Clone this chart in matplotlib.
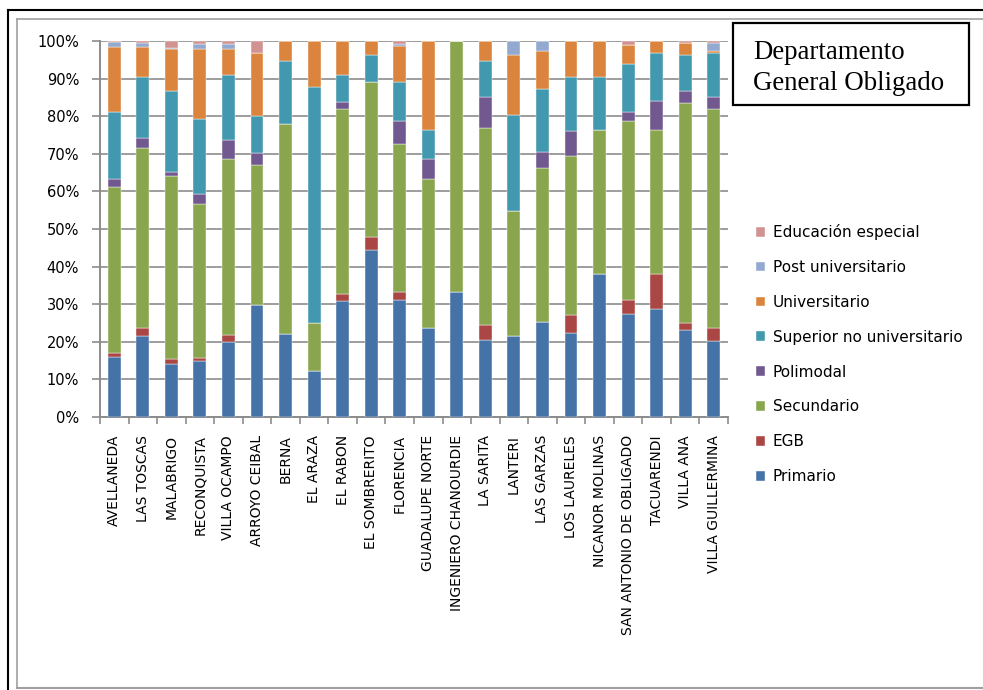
import matplotlib.pyplot as plt
import numpy as np
from matplotlib.patches import Rectangle
from matplotlib.lines import Line2D
from matplotlib.ticker import FuncFormatter

localidades = ["AVELLANEDA", "LAS TOSCAS", "MALABRIGO", "RECONQUISTA", "VILLA OCAMPO",
               "ARROYO CEIBAL", "BERNA", "EL ARAZA", "EL RABON", "EL SOMBRERITO",
               "FLORENCIA", "GUADALUPE NORTE", "INGENIERO CHANOURDIE", "LA SARITA",
               "LANTERI", "LAS GARZAS", "LOS LAURELES", "NICANOR MOLINAS",
               "SAN ANTONIO DE OBLIGADO", "TACUARENDI", "VILLA ANA", "VILLA GUILLERMINA"]

niveles = ["Primario", "EGB", "Secundario", "Polimodal", "Superior no universitario",
           "Universitario", "Post universitario", "Educación especial"]

primario = [16.0, 21.5, 14.2, 15.0, 19.9, 29.9, 22.2, 12.3, 30.9, 44.4, 31.2,
            23.7, 33.3, 20.5, 21.5, 25.3, 22.4, 38.0, 27.5, 28.6, 23.2, 20.1]
egb = [1.0, 2.2, 1.2, 0.8, 1.8, 0.0, 0.0, 0.0, 1.7, 3.6, 2.1,
       0.0, 0.0, 4.0, 0.0, 0.0, 4.8, 0.0, 3.6, 9.4, 1.8, 3.6]
secundario = [44.2, 47.8, 48.7, 40.8, 47.0, 37.0, 55.6, 12.7, 49.4, 41.0, 39.2,
              39.5, 66.7, 52.3, 33.4, 40.9, 42.2, 38.3, 47.7, 38.3, 58.4, 58.1]
polimodal = [2.2, 2.6, 1.0, 2.8, 4.9, 3.2, 0.0, 0.0, 1.7, 0.0, 6.1,
             5.3, 0.0, 8.2, 0.0, 4.3, 6.6, 0.0, 2.4, 7.8, 3.4, 3.4]
superior = [17.8, 16.4, 21.6, 19.9, 17.3, 10.0, 16.8, 62.7, 7.2, 7.4, 10.6,
            7.9, 0.0, 9.6, 25.5, 16.8, 14.4, 14.2, 12.6, 12.8, 9.4, 11.5]
universitario = [17.1, 7.8, 11.1, 18.6, 7.0, 16.6, 5.4, 12.3, 9.1, 3.6, 9.6,
                 23.6, 0.0, 5.4, 15.8, 10.0, 9.6, 9.5, 5.1, 3.1, 3.4, 0.7]
post_univ = [1.4, 1.3, 0.3, 1.2, 1.2, 0.0, 0.0, 0.0, 0.0, 0.0, 0.5,
             0.0, 0.0, 0.0, 3.8, 2.7, 0.0, 0.0, 0.0, 0.0, 0.0, 2.0]
especial = [0.3, 0.4, 1.9, 0.9, 0.9, 3.3, 0.0, 0.0, 0.0, 0.0, 0.7,
            0.0, 0.0, 0.0, 0.0, 0.0, 0.0, 0.0, 1.1, 0.0, 0.4, 0.6]

colores = ["#4572A7", "#AA4643", "#89A54E", "#71588F", "#4198AF",
           "#DB843D", "#93A9CF", "#D19392"]

series = [primario, egb, secundario, polimodal, superior, universitario, post_univ, especial]

W, H = 983, 690
fig = plt.figure(figsize=(W / 100, H / 100), dpi=100)
ax = fig.add_axes([100 / W, 1 - 417 / H, 628 / W, 376 / H])

datos = np.array(series, dtype=float)
datos = datos / datos.sum(axis=0) * 100
x = np.arange(len(localidades))
base = np.zeros(len(localidades))
handles = []
for valores, nombre, color in zip(datos, niveles, colores):
    b = ax.bar(x, valores, bottom=base, width=0.45, color=color, label=nombre,
               edgecolor="white", linewidth=0.3, zorder=3)
    handles.append(b)
    base += valores

ax.set_xlim(-0.5, len(localidades) - 0.5)
ax.set_ylim(0, 100)
ax.set_yticks(np.arange(0, 101, 10))
ax.yaxis.set_major_formatter(FuncFormatter(lambda v, p: f"{int(v)}%"))
ax.grid(axis="y", color="#8c8c8c", linewidth=1.2, zorder=0)

ax.set_xticks(x)
ax.set_xticklabels(localidades, rotation=90, fontsize=10)
ax.set_xticks(np.arange(-0.5, len(localidades), 1), minor=True)
ax.tick_params(axis="x", which="major", length=0, pad=13)
ax.tick_params(axis="x", which="minor", length=5, color="#8c8c8c", width=1.2)
ax.tick_params(axis="y", length=6, color="#8c8c8c", width=1.2, labelsize=10.5, pad=9)

for lado in ["top", "right"]:
    ax.spines[lado].set_visible(False)
for lado in ["left", "bottom"]:
    ax.spines[lado].set_color("#8c8c8c")
    ax.spines[lado].set_linewidth(1.4)

# leyenda en orden inverso, como en la pila
leg = fig.legend(handles[::-1], niveles[::-1], loc="upper left",
                 bbox_to_anchor=(750 / W, 1 - 218 / H), frameon=False,
                 fontsize=11, handlelength=0.6, handleheight=0.6,
                 handletextpad=0.5, labelspacing=1.30, borderaxespad=0)

# recuadro del título
fig.add_artist(Rectangle((733 / W, 1 - 105 / H), 236 / W, 82 / H,
                         transform=fig.transFigure, fill=False,
                         edgecolor="black", linewidth=1.6))
fig.text(753 / W, 1 - 68 / H, "Departamento\nGeneral Obligado",
         family="Liberation Serif", fontsize=19.4, va="center", ha="left",
         linespacing=1.27)

# bordes del marco
fig.add_artist(Line2D([8 / W, 1], [1 - 10 / H, 1 - 10 / H], transform=fig.transFigure,
                      color="black", linewidth=1.5))
fig.add_artist(Line2D([8 / W, 8 / W], [0, 1 - 10 / H], transform=fig.transFigure,
                      color="black", linewidth=1.5))
fig.add_artist(Line2D([17 / W, 1, ], [1 - 19 / H, 1 - 19 / H], transform=fig.transFigure,
                      color="#a0a0a0", linewidth=1.2))
fig.add_artist(Line2D([17 / W, 17 / W], [1 - 688 / H, 1 - 19 / H], transform=fig.transFigure,
                      color="#a0a0a0", linewidth=1.2))
fig.add_artist(Line2D([17 / W, 1], [1 - 688 / H, 1 - 688 / H], transform=fig.transFigure,
                      color="#a0a0a0", linewidth=1.5))

fig.savefig("out.png", dpi=100)
